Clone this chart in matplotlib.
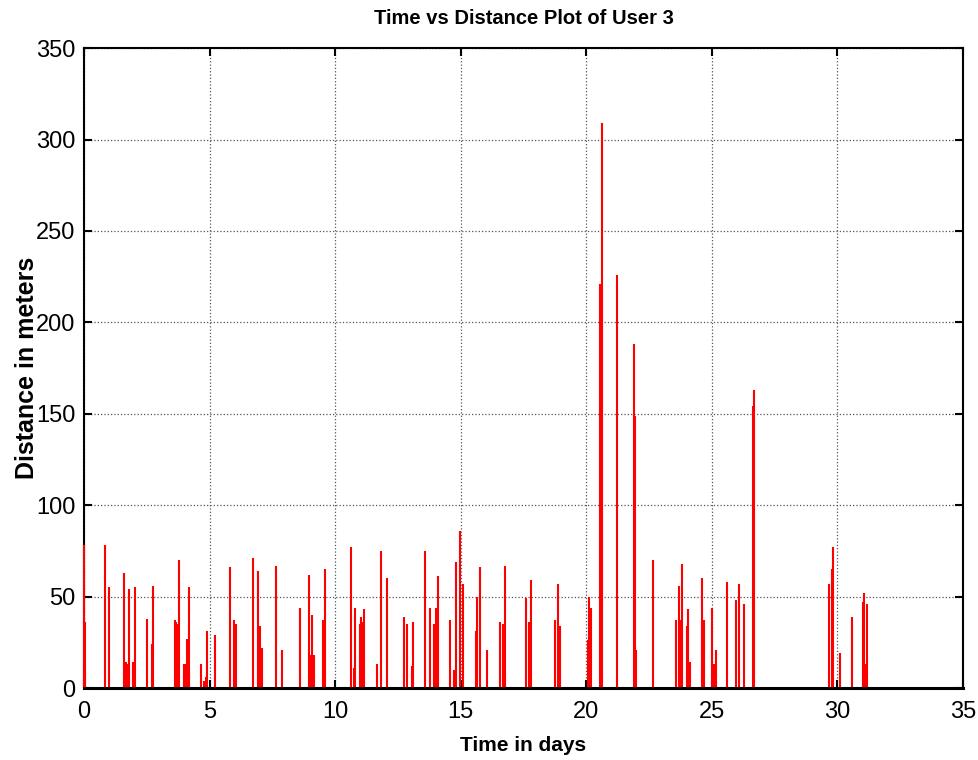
import matplotlib
matplotlib.use("Agg")
import matplotlib.pyplot as plt
from matplotlib import font_manager

# spike times (days) and peak distances (meters)
times = [0.0, 0.02, 0.05, 0.82, 1.01, 1.61, 1.66, 1.70, 1.79, 1.96, 2.03,
         2.52, 2.69, 2.76, 3.61, 3.66, 3.73, 3.80, 3.97, 4.01, 4.09, 4.17,
         4.19, 4.65, 4.78, 4.85, 4.88, 5.20, 5.80, 5.99, 6.05, 6.71, 6.91,
         7.02, 7.08, 7.63, 7.88, 8.61, 8.97, 9.04, 9.09, 9.16, 9.52, 9.58,
         10.62, 10.74, 10.81, 10.98, 11.04, 11.10, 11.16, 11.66, 11.84, 12.08,
         12.74, 12.86, 13.05, 13.11, 13.59, 13.78, 13.95, 14.02, 14.08, 14.56,
         14.75, 14.81, 14.99, 15.11, 15.60, 15.66, 15.78, 16.03, 16.58, 16.70,
         16.75, 17.61, 17.73, 17.80, 18.77, 18.89, 18.96, 20.05, 20.12, 20.17,
         20.56, 20.61, 21.24, 21.88, 21.92, 21.97, 22.66, 23.56, 23.70, 23.76,
         23.82, 23.99, 24.06, 24.12, 24.60, 24.67, 25.02, 25.10, 25.15, 25.61,
         25.95, 26.07, 26.27, 26.63, 26.69, 29.67, 29.79, 29.84, 30.09, 30.58,
         31.00, 31.07, 31.12, 31.19]
dist = [78, 36, 10, 78, 55, 63, 14, 13, 54, 14, 55,
        38, 24, 56, 37, 36, 35, 70, 13, 13, 27, 55,
        9, 13, 4, 6, 31, 29, 66, 37, 35, 71, 64,
        34, 22, 67, 21, 44, 62, 18, 40, 18, 37, 65,
        77, 11, 44, 35, 39, 36, 43, 13, 75, 60,
        39, 35, 12, 36, 75, 44, 35, 44, 61, 37,
        10, 69, 86, 57, 31, 50, 66, 21, 36, 35,
        67, 49, 36, 59, 37, 57, 34, 26, 50, 44,
        221, 309, 226, 188, 149, 21, 70, 37, 56, 37,
        68, 34, 43, 14, 60, 37, 44, 13, 21, 58,
        48, 57, 46, 154, 163, 57, 65, 77, 19, 39,
        47, 52, 13, 46]

names = {f.name for f in font_manager.fontManager.ttflist}
narrow = "Liberation Sans Narrow" if "Liberation Sans Narrow" in names else "Liberation Sans"

fig = plt.figure(figsize=(9.79, 7.6), dpi=100)
ax = fig.add_axes([0.0858, 0.0947, 0.8979, 0.842])

# drawn over the spines like MATLAB does, so the t=0 spike stays visible
ax.vlines(times, 0, dist, color="red", lw=1.5, zorder=3, clip_on=False)

ax.set_xlim(0, 35)
ax.set_ylim(0, 350)
ax.set_xticks(range(0, 36, 5))
ax.set_yticks(range(0, 351, 50))
ax.grid(True, color="#555555", linestyle=":", linewidth=0.9)
ax.tick_params(direction="in", length=6, width=1.5, top=True, right=True,
               labelsize=17)
ax.tick_params(axis="x", pad=9)
ax.tick_params(axis="y", pad=6)
for lab in ax.get_xticklabels() + ax.get_yticklabels():
    lab.set_fontfamily(narrow)
for s in ax.spines.values():
    s.set_linewidth(1.5)
ax.spines["bottom"].set_linewidth(2.2)
ax.spines["bottom"].set_zorder(4)

ax.set_title("Time vs Distance Plot of User 3", fontsize=14.5, fontweight="bold",
             fontfamily=narrow, pad=17)
ax.set_xlabel("Time in days", fontsize=15, fontweight="bold", fontfamily=narrow, labelpad=10)
ax.set_ylabel("Distance in meters", fontsize=18, fontweight="bold",
              fontfamily="Liberation Sans", labelpad=-2)

fig.savefig("out.png", dpi=100)
